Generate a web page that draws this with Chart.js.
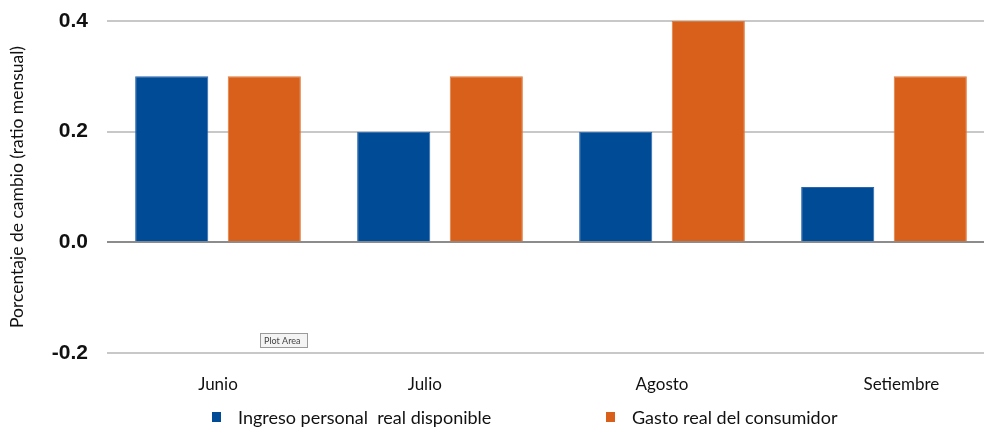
<!DOCTYPE html>
<html>
<head>
<meta charset="utf-8">
<script src="https://cdn.jsdelivr.net/npm/chart.js@4"></script>
<style>
  html, body { margin: 0; padding: 0; background: #fff; overflow: hidden; }
  #wrap { width: 1000px; height: 429px; position: relative; }
</style>
</head>
<body>
<div id="wrap"><canvas id="grafico"></canvas></div>
<script>
// datos
const meses = ["Junio", "Julio", "Agosto", "Setiembre"];
const ingresoDisponible = [0.3, 0.2, 0.2, 0.1];
const gastoConsumidor = [0.3, 0.3, 0.4, 0.3];
const ticksY = [-0.2, 0.0, 0.2, 0.4];

const azul = "#004B96";
const naranja = "#D9601B";
const fuenteTexto = "Lato, 'Open Sans', sans-serif";

// las etiquetas del eje x no estan centradas en el original, se corren con espacios
const corrimiento = { "Julio": "Julio       ", "Setiembre": "        Setiembre" };

// leyenda dibujada abajo, una entrada por serie
const leyendaAbajo = {
    id: "leyendaAbajo",
    afterDraw(chart) {
        const ctx = chart.ctx;
        const xs = [212, 606];
        ctx.save();
        ctx.font = "18px " + fuenteTexto;
        ctx.textBaseline = "middle";
        chart.data.datasets.forEach(function(ds, i) {
            ctx.fillStyle = ds.backgroundColor;
            ctx.fillRect(xs[i], 412, 9, 10);
            ctx.fillStyle = "#111";
            ctx.fillText(ds.label, xs[i] + 26, 418);
        });
        // la etiqueta "Plot Area" de la captura original
        ctx.font = "9px " + fuenteTexto;
        ctx.fillStyle = "#f4f4f4";
        ctx.fillRect(260, 333, 48, 15);
        ctx.strokeStyle = "#9a9a9a";
        ctx.lineWidth = 1;
        ctx.strokeRect(260.5, 333.5, 47, 14);
        ctx.fillStyle = "#444";
        ctx.fillText("Plot Area", 264, 341);
        ctx.restore();
    }
};

new Chart(document.getElementById("grafico"), {
    type: "bar",
    data: {
        labels: meses,
        datasets: [
            {
                label: "Ingreso personal  real disponible",
                data: ingresoDisponible,
                backgroundColor: azul,
                borderColor: "#2a66b0",
                borderWidth: 1
            },
            {
                label: "Gasto real del consumidor",
                data: gastoConsumidor,
                backgroundColor: naranja,
                borderColor: "#e07a3c",
                borderWidth: 1
            }
        ]
    },
    options: {
        responsive: true,
        maintainAspectRatio: false,
        animation: false,
        layout: { padding: { top: 21, right: 5, bottom: 0, left: 0 } },
        datasets: { bar: { categoryPercentage: 0.834, barPercentage: 0.79 } },
        plugins: {
            legend: { display: false },
            tooltip: { enabled: false }
        },
        scales: {
            x: {
                grid: { display: false, drawTicks: false },
                border: { display: false },
                ticks: {
                    color: "#111",
                    font: { family: fuenteTexto, size: 17 },
                    padding: 21,
                    maxRotation: 0,
                    callback: function(v, i) {
                        const t = meses[i];
                        return corrimiento[t] || t;
                    }
                },
                afterFit: function(scale) { scale.height = 76; }
            },
            y: {
                min: -0.2,
                max: 0.4,
                afterBuildTicks: function(scale) {
                    scale.ticks = ticksY.map(function(v) { return { value: v }; });
                },
                grid: {
                    drawTicks: false,
                    lineWidth: 2,
                    color: function(c) { return c.tick && c.tick.value === 0 ? "#8c8c8c" : "#c8c8c8"; }
                },
                border: { display: false },
                ticks: {
                    color: "#111",
                    font: { family: "'Liberation Sans', Arial, sans-serif", size: 21, weight: "bold" },
                    padding: 19,
                    callback: function(v) { return v.toFixed(1); }
                },
                title: {
                    display: true,
                    text: "Porcentaje de cambio (ratio mensual)",
                    color: "#111",
                    font: { family: fuenteTexto, size: 17.5 },
                    padding: { top: 7, bottom: 0 }
                },
                afterFit: function(scale) {
                    scale.width = 107;
                    scale.paddingTop = 0;
                    scale.paddingBottom = 0;
                }
            }
        }
    },
    plugins: [leyendaAbajo]
});
</script>
</body>
</html>
